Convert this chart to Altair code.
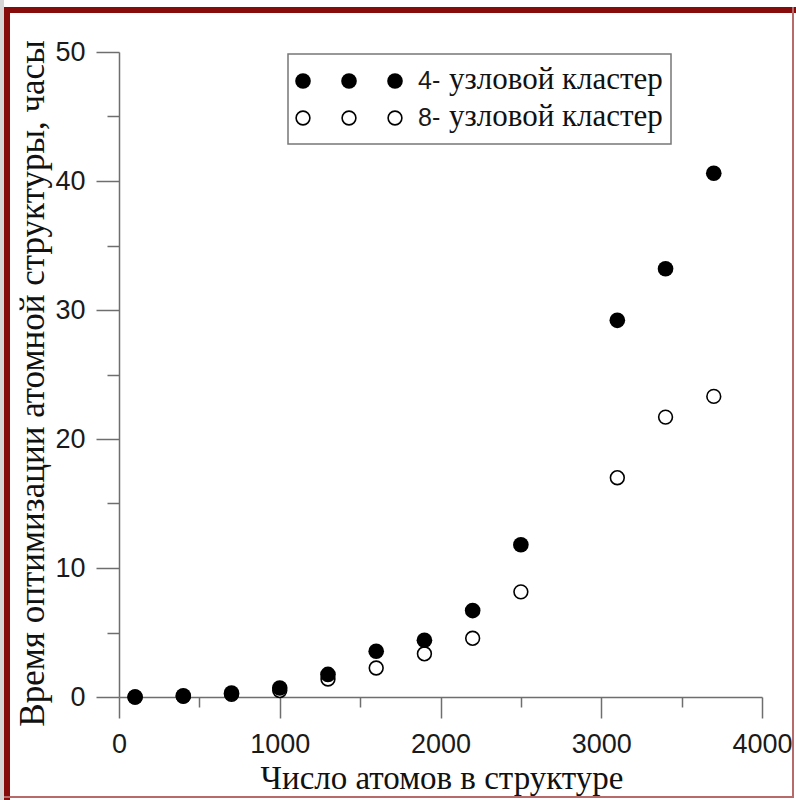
import altair as alt
import pandas as pd

# Optimisation time (hours) vs. number of atoms, for two cluster sizes
atoms = [100, 400, 700, 1000, 1300, 1600, 1900, 2200, 2500, 3100, 3400, 3700]
hours_4node = [0.0, 0.1, 0.3, 0.7, 1.75, 3.55, 4.4, 6.7, 11.8, 29.2, 33.2, 40.6]
hours_8node = [0.0, 0.05, 0.2, 0.5, 1.4, 2.25, 3.35, 4.55, 8.15, 17.0, 21.7, 23.3]
series_labels = ["4- узловой кластер", "8- узловой кластер"]

x_ticks = [0, 1000, 2000, 3000, 4000]
x_minor = [500, 1500, 2500, 3500]
y_ticks = [0, 10, 20, 30, 40, 50]
y_minor = [5, 15, 25, 35, 45]

x_title = "Число атомов в структуре"
y_title = "Время оптимизации атомной структуры, часы"

W, H = 643, 645
PAD_L, PAD_T = 119, 52
AXIS_GREY = "#6e6e6e"
FRAME_RED = "#860b0b"
FILLED_SIZE, OPEN_SIZE = 245, 190

df4 = pd.DataFrame({"atoms": atoms, "hours": hours_4node})
df8 = pd.DataFrame({"atoms": atoms, "hours": hours_8node})
one = pd.DataFrame({"k": [0]})

xs = alt.Scale(domain=[0, 4000], nice=False, zero=False)
ys = alt.Scale(domain=[0, 50], nice=False, zero=False)

x_major = alt.Axis(
    values=x_ticks, orient="bottom", grid=False, format="d",
    tickSize=21, tickWidth=1.5, tickColor=AXIS_GREY,
    domainColor=AXIS_GREY, domainWidth=1.5,
    labelFont="Liberation Sans", labelFontSize=27, labelColor="#1a1a1a",
    labelBaseline="alphabetic", labelPadding=34, labelFlush=False, labelOverlap=False,
    title=x_title, titleFont="Liberation Serif", titleFontSize=33,
    titleFontWeight="normal", titleColor="#111111",
    titleBaseline="alphabetic", titleAlign="center", titleX=W / 2 + 1, titleY=91,
)
y_major = alt.Axis(
    values=y_ticks, orient="left", grid=False,
    tickSize=23, tickWidth=1.5, tickColor=AXIS_GREY,
    domainColor=AXIS_GREY, domainWidth=1.5,
    labelFont="Liberation Sans", labelFontSize=27, labelColor="#1a1a1a",
    labelPadding=11, labelFlush=False, labelOverlap=False,
    title=y_title, titleFont="Liberation Serif", titleFontSize=35,
    titleFontWeight="normal", titleColor="#111111", titleAngle=270,
    titleBaseline="alphabetic", titleAlign="center", titleX=-76, titleY=331,
)
x_minor_axis = alt.Axis(
    values=x_minor, orient="bottom", grid=False, labels=False, domain=False,
    tickSize=10, tickWidth=1.5, tickColor=AXIS_GREY, title=None,
)
y_minor_axis = alt.Axis(
    values=y_minor, orient="left", grid=False, labels=False, domain=False,
    tickSize=12, tickWidth=1.5, tickColor=AXIS_GREY, title=None,
)

open_pts = alt.Chart(df8).mark_circle(
    fill="white", stroke="black", strokeWidth=1.6, size=OPEN_SIZE, opacity=1
).encode(
    x=alt.X("atoms:Q", scale=xs, axis=x_major),
    y=alt.Y("hours:Q", scale=ys, axis=y_major),
)
filled_pts = alt.Chart(df4).mark_circle(color="black", size=FILLED_SIZE, opacity=1).encode(
    x=alt.X("atoms:Q", scale=xs, axis=None),
    y=alt.Y("hours:Q", scale=ys, axis=None),
)
minor_ticks = alt.Chart(df4).mark_circle(opacity=0).encode(
    x=alt.X("atoms:Q", scale=xs, axis=x_minor_axis),
    y=alt.Y("hours:Q", scale=ys, axis=y_minor_axis),
)


def px_rect(x0, x1, y0, y1, **kw):
    return alt.Chart(one).mark_rect(**kw).encode(
        x=alt.value(x0 - PAD_L), x2=alt.value(x1 - PAD_L),
        y=alt.value(y0 - PAD_T), y2=alt.value(y1 - PAD_T),
    )


# page frame: grey edge strip, heavy top/left border, thin right/bottom border
frame = [
    px_rect(0, 4, 0, 800, fill="#d6d6d6"),
    px_rect(4, 796, 7, 13, fill=FRAME_RED),
    px_rect(4, 10, 7, 800, fill=FRAME_RED),
    px_rect(792, 794, 7, 798, fill="#b66a6a"),
    px_rect(4, 794, 796, 798, fill="#b66a6a"),
]

# legend box with three sample markers per row
legend = [px_rect(288, 671, 54, 144, fill="white", stroke="#777777", strokeWidth=1.5)]
row_y = [81, 118]
sym_x = [303, 349, 395]
for i, label in enumerate(series_labels):
    for sx in sym_x:
        if i == 0:
            m = alt.Chart(one).mark_circle(color="black", size=FILLED_SIZE, opacity=1)
        else:
            m = alt.Chart(one).mark_circle(
                fill="white", stroke="black", strokeWidth=1.6, size=OPEN_SIZE, opacity=1
            )
        legend.append(m.encode(x=alt.value(sx - PAD_L), y=alt.value(row_y[i] - PAD_T)))
    num, rest = label.split(" ", 1)
    legend.append(
        alt.Chart(one).mark_text(
            text=num, font="Liberation Sans", fontSize=25, align="left",
            baseline="alphabetic", color="#1a1a1a",
        ).encode(x=alt.value(418 - PAD_L), y=alt.value(row_y[i] + 8 - PAD_T))
    )
    legend.append(
        alt.Chart(one).mark_text(
            text=rest, font="Liberation Serif", fontSize=31, align="left",
            baseline="alphabetic", color="#111111",
        ).encode(x=alt.value(449 - PAD_L), y=alt.value(row_y[i] + 8 - PAD_T))
    )

chart = alt.layer(
    *frame, minor_ticks, open_pts, filled_pts, *legend
).resolve_axis(
    x="independent", y="independent"
).properties(
    width=W, height=H,
    autosize=alt.AutoSizeParams(type="none"),
    padding={"left": PAD_L, "top": PAD_T, "right": 796 - PAD_L - W, "bottom": 800 - PAD_T - H},
    background="white",
).configure_view(stroke=None)

chart.save("out.html", embed_options={"renderer": "svg", "actions": False})
